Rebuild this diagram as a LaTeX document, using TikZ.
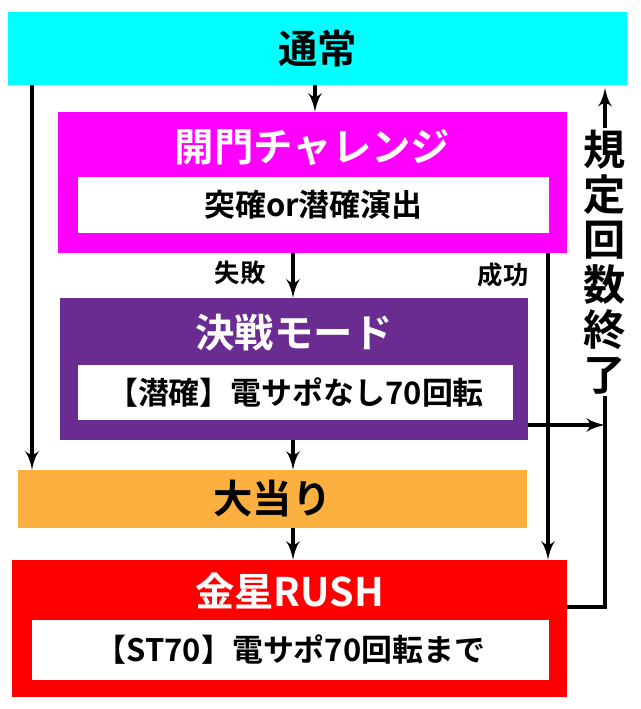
\documentclass[tikz,border=0pt]{standalone}
\usepackage{fontspec}
\setmainfont{Noto Sans CJK JP}[BoldFont=* Bold]
\usetikzlibrary{arrows}
\definecolor{tsujoc}{HTML}{00FFFF}
\definecolor{kaimonc}{HTML}{FF00FF}
\definecolor{kessenc}{HTML}{6B2C91}
\definecolor{ataric}{HTML}{FBB040}
\definecolor{rushc}{HTML}{FF0000}
\tikzset{
  block/.style={
    rectangle,
    draw=none,
    inner sep=0pt
  },
  inbox/.style={block, fill=white, font=\bfseries\fontsize{22}{22}\selectfont}
}
\tikzstyle{arrow} = [->, > = latex', line width=3.5pt]
\def\ttl#1{\bfseries\fontsize{28}{28}\selectfont #1}

\begin{document}
\begin{tikzpicture}[x=0.025cm, y=-0.025cm]
    \useasboundingbox (0,0) rectangle (640,709);
    \node[block, fill=tsujoc, minimum width=15.475cm, minimum height=1.825cm, font=\ttl{}] (tsujo) at (317.5,48.5) {通常};
    \node[block, fill=kaimonc, minimum width=12.725cm, minimum height=3.525cm] (kaimon) at (312.5,182.5) {};
    \node[text=white, font=\ttl{}] (kaimont) at (312.5,147) {開門チャレンジ};
    \node[inbox, minimum width=11.775cm, minimum height=1.4cm] (kaimoni) at (313.5,205) {突確or潜確演出};
    \node[block, fill=kessenc, minimum width=11.7cm, minimum height=3.55cm] (kessen) at (294,369) {};
    \node[text=white, font=\ttl{}] (kessent) at (294,333) {決戦モード};
    \node[inbox, minimum width=10.875cm, minimum height=1.375cm] (kesseni) at (295.5,392.5) {【潜確】電サポなし70回転};
    \node[block, fill=ataric, minimum width=12.725cm, minimum height=1.45cm, font=\ttl{}] (atari) at (272.5,499) {大当り};
    \node[block, fill=rushc, minimum width=13.875cm, minimum height=3.425cm] (rush) at (289.5,628.5) {};
    \node[text=white, font=\ttl{}] (rusht) at (289.5,591) {金星RUSH};
    \node[inbox, minimum width=12.925cm, minimum height=1.5cm] (rushi) at (290.5,650) {【ST70】電サポ70回転まで};
    \node[font=\bfseries\fontsize{18}{18}\selectfont] (shippai) at (240,273) {失敗};
    \node[font=\bfseries\fontsize{18}{18}\selectfont] (seiko) at (503,275) {成功};
    \coordinate (cs) at (605,88);
    \coordinate (cr) at (605,607);
    \coordinate (ck) at (605,425);
    \draw[arrow] (tsujo.south -| 315,0) -- (kaimon.north -| 315,0);
    \draw[arrow] (tsujo.south -| 32,0) -- (atari.north -| 32,0);
    \draw[arrow] (kaimon.south -| 293,0) -- (kessen.north -| 293,0);
    \draw[arrow] (kessen.south -| 293,0) -- (atari.north -| 293,0);
    \draw[arrow] (atari.south -| 293,0) -- (rush.north -| 293,0);
    \draw[arrow] (kaimon.south -| 548,0) -- (rush.north -| 548,0);
    \draw[arrow] (kessen.east |- ck) -- (ck);
    \draw[arrow] (rush.east |- cr) -- (cr) -- (cs);
    \node[fill=white, inner sep=1pt, align=center, font=\bfseries\fontsize{30}{32}\selectfont] (kitei) at (605,262) {規\\定\\回\\数\\終\\了};
\end{tikzpicture}
\end{document}
